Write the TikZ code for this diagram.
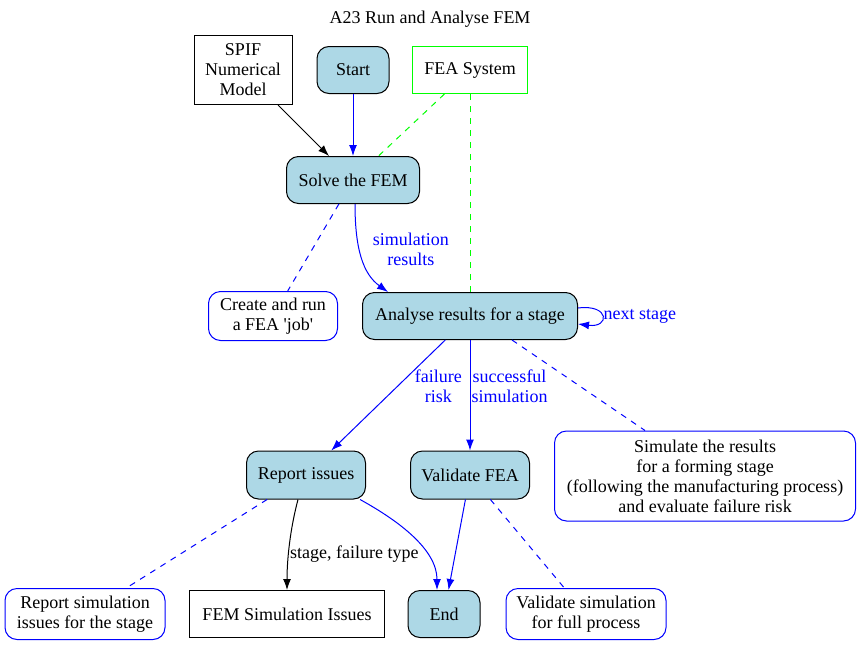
\documentclass[tikz,border=0pt]{standalone}
\usepackage{fontspec}
\setmainfont{Liberation Serif}
\usetikzlibrary{arrows.meta}
\definecolor{lightblue}{RGB}{173,216,230}
\definecolor{fgreen}{RGB}{0,255,0}
\tikzset{
  every node/.style={font=\fontsize{18}{20}\selectfont, align=center},
  proc/.style={draw, rounded corners=12pt, fill=lightblue, minimum height=47pt, inner sep=2pt},
  note/.style={draw=blue, rounded corners=12pt, fill=white, inner sep=2pt},
  box/.style={draw, inner sep=2pt, minimum height=47pt},
  tip/.style={-{Latex[length=11pt,width=8pt]}},
  flow/.style={blue, tip},
  link/.style={blue, dash pattern=on 6pt off 6pt},
  sys/.style={fgreen, dash pattern=on 6pt off 6pt},
  lbl/.style={inner sep=1pt},
}
\begin{document}
\begin{tikzpicture}[x=1pt,y=-1pt,line width=1pt]
  \useasboundingbox (0,0) rectangle (861,645);
  \node (title) at (430,19) {A23 Run and Analyse FEM};
  %top row
  \node[box, minimum width=98pt, minimum height=69pt] (spif) at (243,70) {SPIF\\Numerical\\Model};
  \node[proc, minimum width=72pt] (start) at (353,70) {Start};
  \node[box, draw=fgreen, minimum width=115pt] (fea) at (470,70) {FEA System};
  %solve and analyse
  \node[proc, minimum width=133pt] (solve) at (353,180) {Solve the FEM};
  \node[note, minimum width=129pt, minimum height=49pt] (jobnote) at (273,316) {Create and run\\a FEA \textquotesingle job\textquotesingle};
  \node[proc, minimum width=215pt] (analyse) at (470,316) {Analyse results for a stage};
  \node[note, minimum width=301pt, minimum height=90pt] (simnote) at (705,476) {Simulate the results\\for a forming stage\\(following the manufacturing process)\\and evaluate failure risk};
  \node[proc, minimum width=119pt, minimum height=48pt] (report) at (306,475) {Report issues};
  \node[proc, minimum width=119pt, minimum height=48pt] (valid) at (470,475) {Validate FEA};
  %bottom row
  \node[note, minimum width=160pt, minimum height=51pt] (repnote) at (85,614) {Report simulation\\issues for the stage};
  \node[box, minimum width=195pt] (issues) at (287,614) {FEM Simulation Issues};
  \node[proc, minimum width=72pt] (end) at (444,614) {End};
  \node[note, minimum width=160pt, minimum height=51pt] (valnote) at (586,614) {Validate simulation\\for full process};
  %edges into solve
  \draw[tip] (spif) -- (solve);
  \draw[flow] (start) -- (solve);
  \draw[sys] (fea) -- (solve);
  \draw[sys] (fea) -- (analyse);
  %solve to analyse
  \draw[link] (solve) -- (jobnote);
  \draw[flow] ([xshift=2pt]solve.south) .. controls +(0,45) and +(-25,-18) .. ([xshift=-82pt]analyse.north)
    node[pos=.4, right=12pt, lbl] {simulation\\results};
  \draw[flow] ([yshift=8pt]analyse.east) .. controls +(32,-4) and +(32,4) .. ([yshift=-8pt]analyse.east)
    node[pos=.5, right, lbl] {next stage};
  %out of analyse
  \draw[flow] (analyse) -- (report) node[pos=.42, right=16pt, lbl] {failure\\risk};
  \draw[flow] (analyse) -- (valid) node[pos=.42, right, lbl] {successful\\simulation};
  \draw[link] ([xshift=42pt]analyse.south) -- ([xshift=-60pt]simnote.north);
  %bottom edges
  \draw[link] (report) -- (repnote);
  \draw[tip] ([xshift=-8pt]report.south) .. controls +(-8,30) and +(0,-30) .. (issues.north)
    node[pos=.6, right, lbl] {stage, failure type};
  \draw[flow] ([xshift=54pt]report.south) .. controls +(40,22) and +(0,-40) .. ([xshift=-7pt]end.north);
  \draw[flow] (valid) -- (end);
  \draw[link] (valid) -- (valnote);
\end{tikzpicture}
\end{document}
